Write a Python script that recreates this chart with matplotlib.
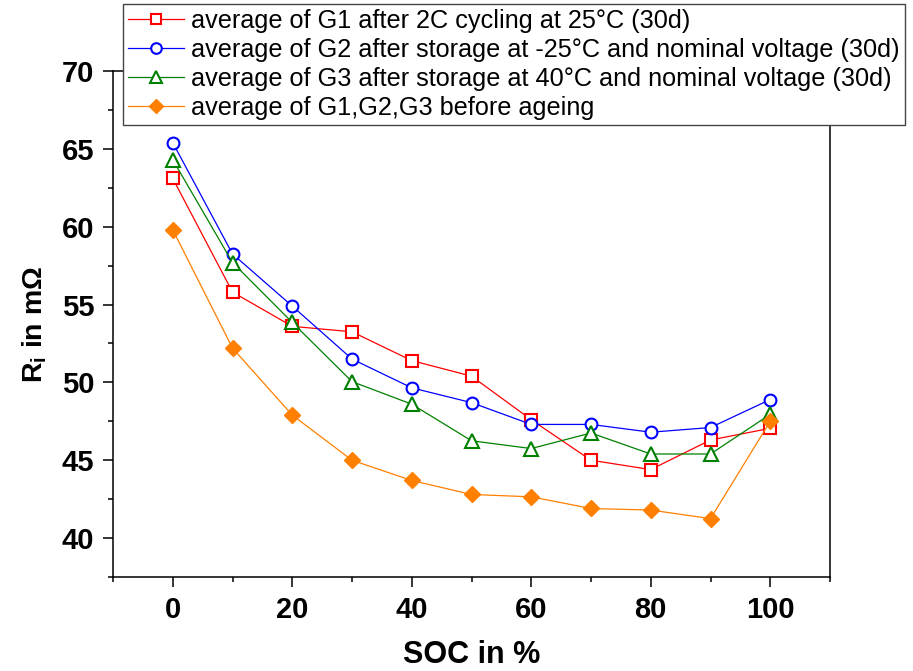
import matplotlib
matplotlib.use("Agg")
import matplotlib.pyplot as plt
from matplotlib.ticker import MultipleLocator

plt.rcParams['font.family'] = ['Liberation Sans', 'DejaVu Sans']
plt.rcParams['mathtext.fontset'] = 'custom'
plt.rcParams['mathtext.rm'] = 'Liberation Sans:bold'
plt.rcParams['mathtext.it'] = 'Liberation Sans:bold'
plt.rcParams['mathtext.default'] = 'rm'

# SOC steps in %
soc = [0, 10, 20, 30, 40, 50, 60, 70, 80, 90, 100]

# internal resistance in mOhm
g1_cycling = [63.1, 55.8, 53.6, 53.25, 51.4, 50.4, 47.6, 45.0, 44.4, 46.3, 47.05]
g2_storage_m25 = [65.4, 58.25, 54.9, 51.5, 49.65, 48.7, 47.3, 47.3, 46.8, 47.1, 48.9]
g3_storage_40 = [64.3, 57.7, 53.85, 50.05, 48.6, 46.25, 45.75, 46.75, 45.4, 45.4, 47.95]
before_ageing = [59.8, 52.2, 47.9, 45.0, 43.7, 42.8, 42.65, 41.9, 41.8, 41.25, 47.5]

labels = [
    'average of G1 after 2C cycling at 25°C (30d)',
    'average of G2 after storage at -25°C and nominal voltage (30d)',
    'average of G3 after storage at 40°C and nominal voltage (30d)',
    'average of G1,G2,G3 before ageing',
]

fig = plt.figure(figsize=(9.13, 6.71), dpi=100)
ax = fig.add_axes([113/913, 1 - 577/671, (830 - 113)/913, (577 - 71)/671])

lw = 0.9
ax.plot(soc, g1_cycling, color='#ff0000', lw=lw, marker='s', ms=8,
        mfc='white', mec='#ff0000', mew=1.5, label=labels[0])
ax.plot(soc, g2_storage_m25, color='#0000ff', lw=lw, marker='o', ms=8.5,
        mfc='white', mec='#0000ff', mew=1.5, label=labels[1])
ax.plot(soc, g3_storage_40, color='#008000', lw=lw, marker='^', ms=9.5,
        mfc='white', mec='#008000', mew=1.5, label=labels[2])
ax.plot(soc, before_ageing, color='#ff8000', lw=lw, marker='D', ms=8,
        mfc='#ff8000', mec='#ff8000', mew=1, label=labels[3])

ax.set_xlim(-10, 110)
ax.set_ylim(37.5, 70)
ax.xaxis.set_major_locator(MultipleLocator(20))
ax.xaxis.set_minor_locator(MultipleLocator(10))
ax.yaxis.set_major_locator(MultipleLocator(5))
ax.yaxis.set_minor_locator(MultipleLocator(2.5))

for s in ax.spines.values():
    s.set_linewidth(1.1)
ax.tick_params(which='major', direction='out', length=7.5, width=1.1, labelsize=21, pad=6)
ax.tick_params(which='minor', direction='out', length=3.8, width=1.1)
ax.tick_params(right=False, top=False, which='both')
for t in ax.get_xticklabels() + ax.get_yticklabels():
    t.set_fontweight('bold')

ax.set_xlabel('SOC in %', fontsize=22, fontweight='bold', labelpad=12)
ax.set_ylabel('R$_{i}$ in mΩ', fontsize=20.5, fontweight='bold', labelpad=9)

leg = fig.legend(loc='upper left', bbox_to_anchor=(123/913, 1 - 4/671),
                 bbox_transform=fig.transFigure, borderaxespad=0,
                 fontsize=18.2, frameon=True, fancybox=False, framealpha=1,
                 edgecolor='#444444', borderpad=0.2, labelspacing=0.2,
                 handlelength=2.2, handletextpad=0.3)
leg.get_frame().set_linewidth(1.0)
for h in leg.legend_handles:
    h.set_markersize(h.get_markersize() * 0.9)

fig.savefig('out.png', dpi=100)
